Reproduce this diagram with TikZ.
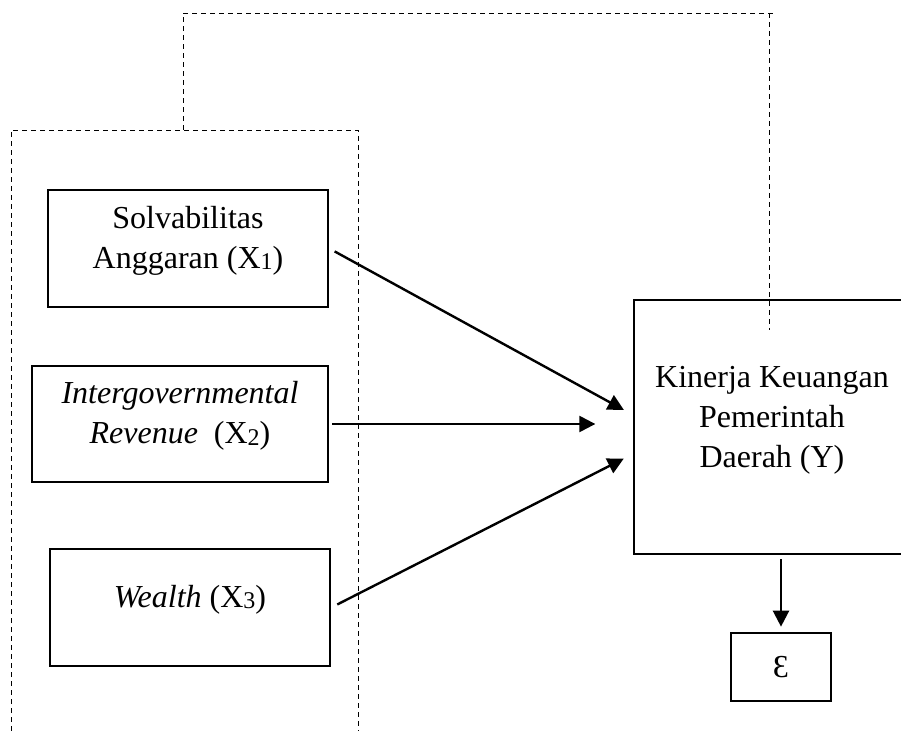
\documentclass[tikz,border=0pt]{standalone}
\usepackage{fontspec}
\setmainfont{Liberation Serif}
\usetikzlibrary{arrows.meta}

\newcommand{\idx}[1]{{\fontsize{18}{18}\selectfont\raisebox{-1pt}{#1}}}
\newcommand{\upper}[1]{\raisebox{6pt}[\height][\depth]{\begin{tabular}{@{}c@{}}#1\end{tabular}}}

\tikzset{every picture/.style={line width=0.75pt}}
\tikzset{
  varbox/.style={draw, line width=2pt, inner sep=0pt, align=center,
    font=\fontsize{24}{30}\selectfont},
  conn/.style={line width=1.8pt, -{Triangle[length=12pt,width=12pt]}},
  grpline/.style={line width=0.6pt, dash pattern=on 3.75pt off 3pt}
}

\begin{document}
\begin{tikzpicture}[x=0.75pt,y=0.75pt,yscale=-1,xscale=1]
    \useasboundingbox (0,0) rectangle (901,731);
    % Independent variables
    \node[varbox, minimum width=210pt, minimum height=87.75pt] (x1) at (188,248.5) {\upper{Solvabilitas\\Anggaran (X\idx{1})}};
    \node[varbox, minimum width=222pt, minimum height=87pt] (x2) at (180,424) {\upper{\textit{Intergovernmental}\\\textit{Revenue}~ (X\idx{2})}};
    \node[varbox, minimum width=210pt, minimum height=87.75pt] (x3) at (190,607.5) {\upper{\textit{Wealth} (X\idx{3})}};
    % Dependent variable
    \node[varbox, minimum width=207pt, minimum height=190.5pt] (y) at (772,427) {\upper{Kinerja Keuangan\\Pemerintah\\Daerah (Y)}};
    % Error term
    \node[varbox, minimum width=75pt, minimum height=51pt] (eps) at (781,667) {Ɛ};
    % Simultaneous group
    \coordinate (grptop) at (183,130);
    \draw[grpline] (11,731) -- (11,130) -- (358,130) -- (358,731);
    \draw[grpline] (grptop) |- (777,13);
    \draw[grpline] (769,13) -- (769,330);
    % Connection
    \draw[conn, shorten <=4.5pt, shorten >=7.5pt] (x1.east) -- (y.175);
    % Connection
    \draw[conn, shorten <=2.25pt, shorten >=28pt] (x2.east) -- (x2.east -| y.west);
    % Connection
    \draw[conn, shorten <=5pt, shorten >=7.5pt] (x3.east) -- (y.191);
    % Connection
    \draw[conn, shorten <=3pt, shorten >=3.75pt] (eps.north |- y.south) -- (eps.north);
\end{tikzpicture}
\end{document}
